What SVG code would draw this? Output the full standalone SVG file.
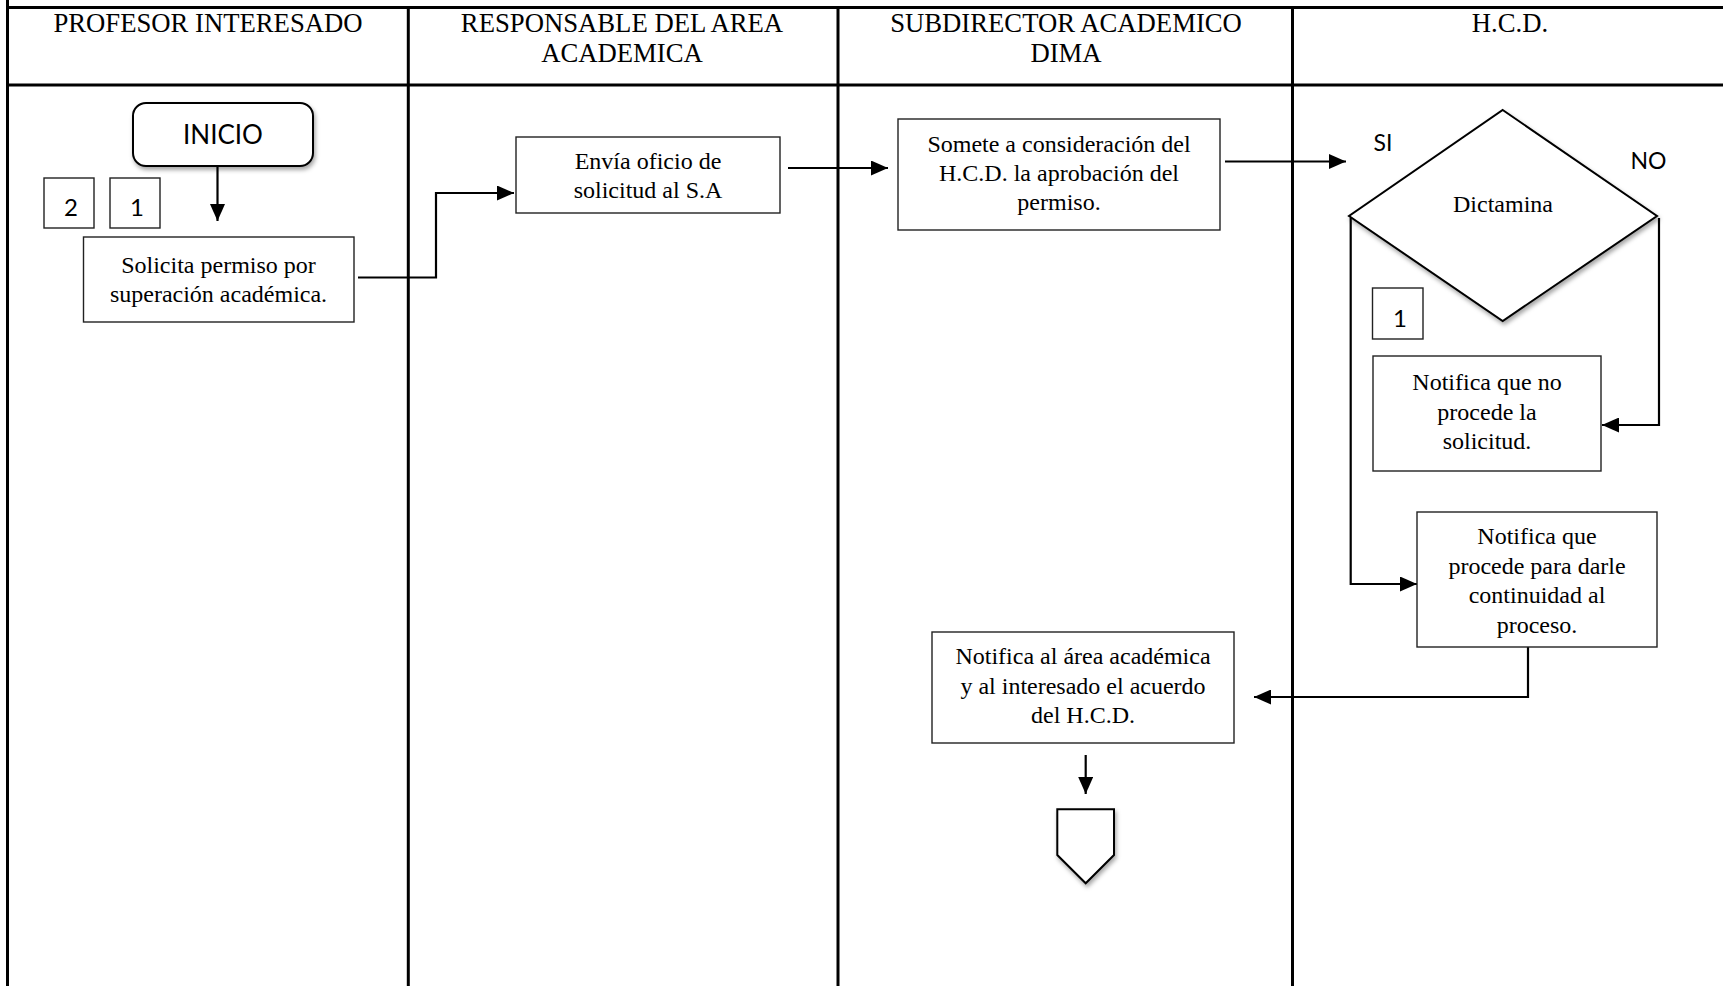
<svg xmlns="http://www.w3.org/2000/svg" width="1723" height="986" viewBox="0 0 1723 986">
  <style>
    .lane { stroke: #000; stroke-width: 3; fill: none; }
    .hdr { font-family: "Liberation Serif", "Times New Roman", serif; font-size: 26.7px; fill: #000; text-anchor: middle; }
    .txt { font-family: "Liberation Serif", "Times New Roman", serif; font-size: 24px; fill: #000; text-anchor: middle; }
    .sans { font-family: Lato, "Open Sans", "Liberation Sans", sans-serif; fill: #000; text-anchor: middle; }
    .box { fill: #fff; stroke: #222; stroke-width: 1.4; }
    .shape { fill: #fff; stroke: #000; stroke-width: 2; }
    .conn { stroke: #000; stroke-width: 2.2; fill: none; }
  </style>
  <defs>
    <marker id="arrow" markerUnits="userSpaceOnUse" markerWidth="17" markerHeight="15" refX="17" refY="7.5" orient="auto">
      <path d="M0,0 L17,7.5 L0,15 z" fill="#000"/>
    </marker>
    <filter id="shadow" x="-10%" y="-10%" width="130%" height="130%">
      <feDropShadow dx="1.5" dy="3" stdDeviation="2" flood-color="#000" flood-opacity="0.35"/>
    </filter>
  </defs>

  <rect width="1723" height="986" fill="#fff"/>

  <!-- swimlane grid -->
  <g id="lanes">
    <line class="lane" x1="7.5" y1="0" x2="7.5" y2="986"/>
    <line class="lane" x1="6" y1="7.5" x2="1723" y2="7.5"/>
    <line class="lane" x1="6" y1="85" x2="1723" y2="85"/>
    <line class="lane" x1="408.3" y1="7.5" x2="408.3" y2="986"/>
    <line class="lane" x1="838" y1="7.5" x2="838" y2="986"/>
    <line class="lane" x1="1292.5" y1="7.5" x2="1292.5" y2="986"/>
  </g>

  <!-- lane headers -->
  <g id="headers">
    <text class="hdr" x="208" y="32">PROFESOR INTERESADO</text>
    <text class="hdr" x="622" y="32">RESPONSABLE DEL AREA</text>
    <text class="hdr" x="622" y="62">ACADEMICA</text>
    <text class="hdr" x="1066" y="32">SUBDIRECTOR ACADEMICO</text>
    <text class="hdr" x="1066" y="62">DIMA</text>
    <text class="hdr" x="1510" y="32">H.C.D.</text>
  </g>

  <!-- connectors -->
  <g id="connectors">
    <path class="conn" d="M217.5,166 V221" marker-end="url(#arrow)"/>
    <path class="conn" d="M358,277.5 H436 V193 H514" marker-end="url(#arrow)"/>
    <path class="conn" d="M788,168 H888" marker-end="url(#arrow)"/>
    <path class="conn" d="M1225,161.5 H1346" marker-end="url(#arrow)"/>
    <path class="conn" d="M1350.7,218 V584 H1417" marker-end="url(#arrow)"/>
    <path class="conn" d="M1659,218 V425 H1602" marker-end="url(#arrow)"/>
    <path class="conn" d="M1528,647 V697 H1254" marker-end="url(#arrow)"/>
    <path class="conn" d="M1085.7,755 V794" marker-end="url(#arrow)"/>
  </g>

  <g id="inicio">
    <rect class="shape" x="133" y="103" width="180" height="63" rx="13" ry="13" filter="url(#shadow)"/>
    <text class="sans" x="223" y="144" font-size="26">INICIO</text>
  </g>

  <g id="ref-2">
    <rect class="box" x="44" y="178" width="50" height="50" stroke="#000"/>
    <text class="sans" x="71" y="216" font-size="24">2</text>
  </g>

  <g id="ref-1a">
    <rect class="box" x="110" y="178" width="50" height="50" stroke="#000"/>
    <text class="sans" x="137" y="216" font-size="24">1</text>
  </g>

  <g id="solicita">
    <rect class="box" x="83.5" y="237" width="270.5" height="85"/>
    <text class="txt" x="218.5" y="273">Solicita permiso por</text>
    <text class="txt" x="218.5" y="302">superación académica.</text>
  </g>

  <g id="envia">
    <rect class="box" x="516" y="137" width="264" height="76"/>
    <text class="txt" x="648" y="169">Envía oficio de</text>
    <text class="txt" x="648" y="198">solicitud al S.A</text>
  </g>

  <g id="somete">
    <rect class="box" x="898" y="119" width="322" height="111"/>
    <text class="txt" x="1059" y="152">Somete a consideración del</text>
    <text class="txt" x="1059" y="181">H.C.D. la aprobación del</text>
    <text class="txt" x="1059" y="210">permiso.</text>
  </g>

  <g id="dictamina">
    <polygon class="shape" points="1502.7,110 1657,216 1502.7,321 1349,216" filter="url(#shadow)"/>
    <text class="txt" x="1503" y="212">Dictamina</text>
    <text class="sans" x="1383" y="151" font-size="23">SI</text>
    <text class="sans" x="1648.5" y="169" font-size="23">NO</text>
  </g>

  <g id="ref-1b">
    <rect class="box" x="1372.5" y="288" width="50.5" height="51" stroke="#000"/>
    <text class="sans" x="1400" y="327" font-size="24">1</text>
  </g>

  <g id="no-procede">
    <rect class="box" x="1373" y="356" width="228" height="115"/>
    <text class="txt" x="1487" y="390">Notifica que no</text>
    <text class="txt" x="1487" y="419.5">procede la</text>
    <text class="txt" x="1487" y="449">solicitud.</text>
  </g>

  <g id="procede">
    <rect class="box" x="1417" y="512" width="240" height="135"/>
    <text class="txt" x="1537" y="544">Notifica que</text>
    <text class="txt" x="1537" y="573.5">procede para darle</text>
    <text class="txt" x="1537" y="603">continuidad al</text>
    <text class="txt" x="1537" y="632.5">proceso.</text>
  </g>

  <g id="notifica-area">
    <rect class="box" x="932" y="632" width="302" height="111"/>
    <text class="txt" x="1083" y="664">Notifica al área académica</text>
    <text class="txt" x="1083" y="693.5">y al interesado el acuerdo</text>
    <text class="txt" x="1083" y="723">del H.C.D.</text>
  </g>

  <g id="conector-pagina">
    <polygon class="shape" points="1057.3,809.3 1114,809.3 1114,855 1085.7,883.3 1057.3,855" filter="url(#shadow)"/>
  </g>
</svg>
